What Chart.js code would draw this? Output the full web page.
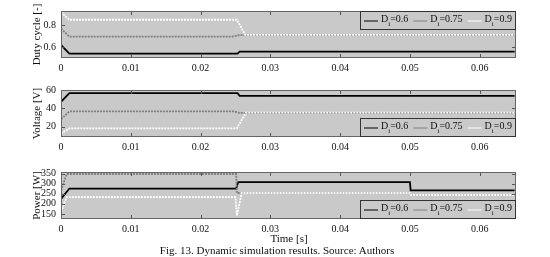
<!DOCTYPE html>
<html>
<head>
<meta charset="utf-8">
<script src="https://cdn.jsdelivr.net/npm/chart.js@4.4.1/dist/chart.umd.min.js"></script>
<style>
  body { margin: 0; background: #fff; width: 550px; height: 257px; position: relative; overflow: hidden; }
  .panel { position: absolute; left: 0; width: 550px; }
  .txt { position: absolute; font-family: "Liberation Serif", serif; color: #111; white-space: nowrap; }
</style>
</head>
<body>
<div class="panel" style="top:0px"><canvas id="dutyChart" width="550" height="74"></canvas></div>
<div class="panel" style="top:79px"><canvas id="voltChart" width="550" height="74"></canvas></div>
<div class="panel" style="top:161px"><canvas id="powerChart" width="550" height="74"></canvas></div>
<div class="txt" id="xTitle" style="top:232px; left:0; width:578px; text-align:center; font-size:11px;">Time [s]</div>
<div class="txt" id="caption" style="top:244px; left:0; width:554px; text-align:center; font-size:11px;">Fig. 13. Dynamic simulation results. Source: Authors</div>
<script>
// series labels (D_i values)
const seriesNames = ["0.6", "0.75", "0.9"];
const lineColors = ["#000000", "#808080", "#ffffff"];

// time ticks
const timeTicks = [0, 0.01, 0.02, 0.03, 0.04, 0.05, 0.06];

// duty cycle [-]
const dutyT06 = [0, 0.0012, 0.0253, 0.0256, 0.065];
const duty06 = [0.62, 0.54, 0.54, 0.558, 0.558];
const dutyT075 = [0, 0.0012, 0.0245, 0.0256, 0.065];
const duty075 = [0.77, 0.695, 0.695, 0.71, 0.71];
const dutyT09 = [0, 0.0012, 0.0252, 0.0264, 0.065];
const duty09 = [0.92, 0.85, 0.85, 0.711, 0.711];
const dutyTicks = [0.6, 0.8];

// voltage [V]
const voltT06 = [0, 0.0012, 0.0253, 0.0256, 0.065];
const volt06 = [47, 56.5, 56.5, 53.5, 53.5];
const voltT075 = [0, 0.0012, 0.0248, 0.0256, 0.065];
const volt075 = [28, 36.5, 36.5, 35, 35];
const voltT09 = [0, 0.0012, 0.0252, 0.0265, 0.065];
const volt09 = [12, 18, 18, 35.2, 35.2];
const voltTicks = [20, 40, 60];

// power [W]
const powT06 = [0, 0.0012, 0.0251, 0.0254, 0.05, 0.0501, 0.065];
const pow06 = [225, 276, 276, 308, 308, 267, 267];
const powT075 = [0, 0.0008, 0.0251, 0.0252, 0.05, 0.0501, 0.065];
const pow075 = [265, 348, 348, 254, 254, 244, 244];
const powT09 = [0, 0.0008, 0.025, 0.0252, 0.0259, 0.05, 0.0501, 0.065];
const pow09 = [160, 233, 233, 142, 254, 254, 244, 244];
const powTicks = [150, 200, 250, 300, 350];

const FONT = "Liberation Serif";
const PLOT_BG = "#c9c9c9";

function toPoints(ts, vs) {
  return ts.map((t, i) => ({ x: t, y: vs[i] }));
}

// gray plot background + frame + inward ticks + legend box
const framePlugin = {
  id: 'frame',
  beforeDatasetsDraw(chart) {
    const { ctx, chartArea: a } = chart;
    ctx.save();
    ctx.fillStyle = PLOT_BG;
    ctx.fillRect(a.left, a.top, a.right - a.left, a.bottom - a.top);
    ctx.restore();
  },
  afterDatasetsDraw(chart) {
    const { ctx, chartArea: a, scales } = chart;
    ctx.save();
    ctx.strokeStyle = "#555";
    ctx.lineWidth = 1;
    ctx.beginPath();
    scales.x.ticks.forEach(t => {
      const px = Math.round(scales.x.getPixelForValue(t.value)) + 0.5;
      ctx.moveTo(px, a.top); ctx.lineTo(px, a.top + 4);
      ctx.moveTo(px, a.bottom); ctx.lineTo(px, a.bottom - 4);
    });
    scales.y.ticks.forEach(t => {
      const py = Math.round(scales.y.getPixelForValue(t.value)) + 0.5;
      ctx.moveTo(a.left, py); ctx.lineTo(a.left + 4, py);
      ctx.moveTo(a.right, py); ctx.lineTo(a.right - 4, py);
    });
    ctx.stroke();
    ctx.strokeStyle = "#666";
    ctx.strokeRect(Math.round(a.left) + 0.5, Math.round(a.top) + 0.5,
      Math.round(a.right - a.left) - 1, Math.round(a.bottom - a.top) - 1);
    ctx.restore();
  },
  afterDraw(chart) {
    const opts = chart.options.plugins.frame || {};
    const { ctx, chartArea: a } = chart;
    const main = `10px "${FONT}"`, sub = `7px "${FONT}"`;
    // measure entries
    ctx.save();
    const entries = seriesNames.map(n => {
      ctx.font = main; const wD = ctx.measureText("D").width;
      const s = "=" + n; const wS = ctx.measureText(s).width;
      ctx.font = sub; const wi = ctx.measureText("i").width;
      return { s, wD, wi, wS, w: 17 + wD + wi + wS };
    });
    const gap = 5;
    const total = entries.reduce((acc, e) => acc + e.w, 0) + gap * (entries.length - 1) + 8;
    const boxW = Math.round(total), boxH = 19;
    const left = Math.round(a.right - boxW);
    const top = opts.legendPos === 'top' ? Math.round(a.top) : Math.round(a.bottom - boxH);
    ctx.fillStyle = PLOT_BG;
    ctx.fillRect(left, top, boxW, boxH);
    ctx.strokeStyle = "#333";
    ctx.lineWidth = 1;
    ctx.strokeRect(left + 0.5, top + 0.5, boxW - 1, boxH - 1);
    let x = left + 4;
    const cy = top + 8.5;
    entries.forEach((e, i) => {
      ctx.strokeStyle = lineColors[i];
      ctx.lineWidth = 1;
      ctx.beginPath();
      ctx.moveTo(x, cy + 1.5); ctx.lineTo(x + 14, cy + 1.5);
      ctx.stroke();
      x += 17;
      ctx.fillStyle = "#111";
      ctx.textBaseline = 'middle';
      ctx.font = main;
      ctx.fillText("D", x, cy);
      x += e.wD;
      ctx.font = sub;
      ctx.fillText("i", x, cy + 5);
      x += e.wi;
      ctx.font = main;
      ctx.fillText(e.s, x, cy);
      x += e.wS + gap;
    });
    ctx.restore();
  }
};

function makeChart(id, series, yMin, yMax, yTicks, yTitle, legendPos) {
  const datasets = series.map((pts, i) => ({
    label: "D_i=" + seriesNames[i],
    data: pts,
    borderColor: lineColors[i],
    borderWidth: 1.8,
    borderDash: i === 0 ? [] : [2, 1],
    pointRadius: 0,
    tension: 0,
    order: 3 - i
  }));
  return new Chart(document.getElementById(id), {
    type: 'line',
    data: { datasets },
    options: {
      responsive: false,
      animation: false,
      events: [],
      layout: { padding: { left: 27, right: 34, top: 2, bottom: 0 } },
      plugins: {
        legend: { display: false },
        tooltip: { enabled: false },
        frame: { legendPos }
      },
      scales: {
        x: {
          type: 'linear',
          min: 0,
          max: 0.0652,
          grid: { display: false, drawTicks: false },
          border: { display: false },
          afterBuildTicks: s => { s.ticks = timeTicks.map(v => ({ value: v })); },
          afterFit: s => { s.height = 16; },
          ticks: {
            padding: 4,
            autoSkip: false,
            maxRotation: 0,
            color: "#111",
            font: { family: FONT, size: 10 },
            callback: v => String(v)
          }
        },
        y: {
          min: yMin,
          max: yMax,
          grid: { display: false, drawTicks: false },
          border: { display: false },
          afterBuildTicks: s => { s.ticks = yTicks.map(v => ({ value: v })); },
          afterFit: s => { s.width = 34; },
          title: {
            display: true,
            text: yTitle,
            color: "#111",
            font: { family: FONT, size: 11 },
            padding: { top: 4, bottom: 0 }
          },
          ticks: {
            padding: 5,
            autoSkip: false,
            color: "#111",
            font: { family: FONT, size: 10 },
            callback: v => String(v)
          }
        }
      }
    },
    plugins: [framePlugin]
  });
}

makeChart('dutyChart',
  [toPoints(dutyT06, duty06), toPoints(dutyT075, duty075), toPoints(dutyT09, duty09)],
  0.5, 0.93, dutyTicks, "Duty cycle [-]", 'top');

makeChart('voltChart',
  [toPoints(voltT06, volt06), toPoints(voltT075, volt075), toPoints(voltT09, volt09)],
  8.5, 60, voltTicks, "Voltage [V]", 'bottom');

makeChart('powerChart',
  [toPoints(powT06, pow06), toPoints(powT075, pow075), toPoints(powT09, pow09)],
  125, 358, powTicks, "Power [W]", 'bottom');
</script>
</body>
</html>
